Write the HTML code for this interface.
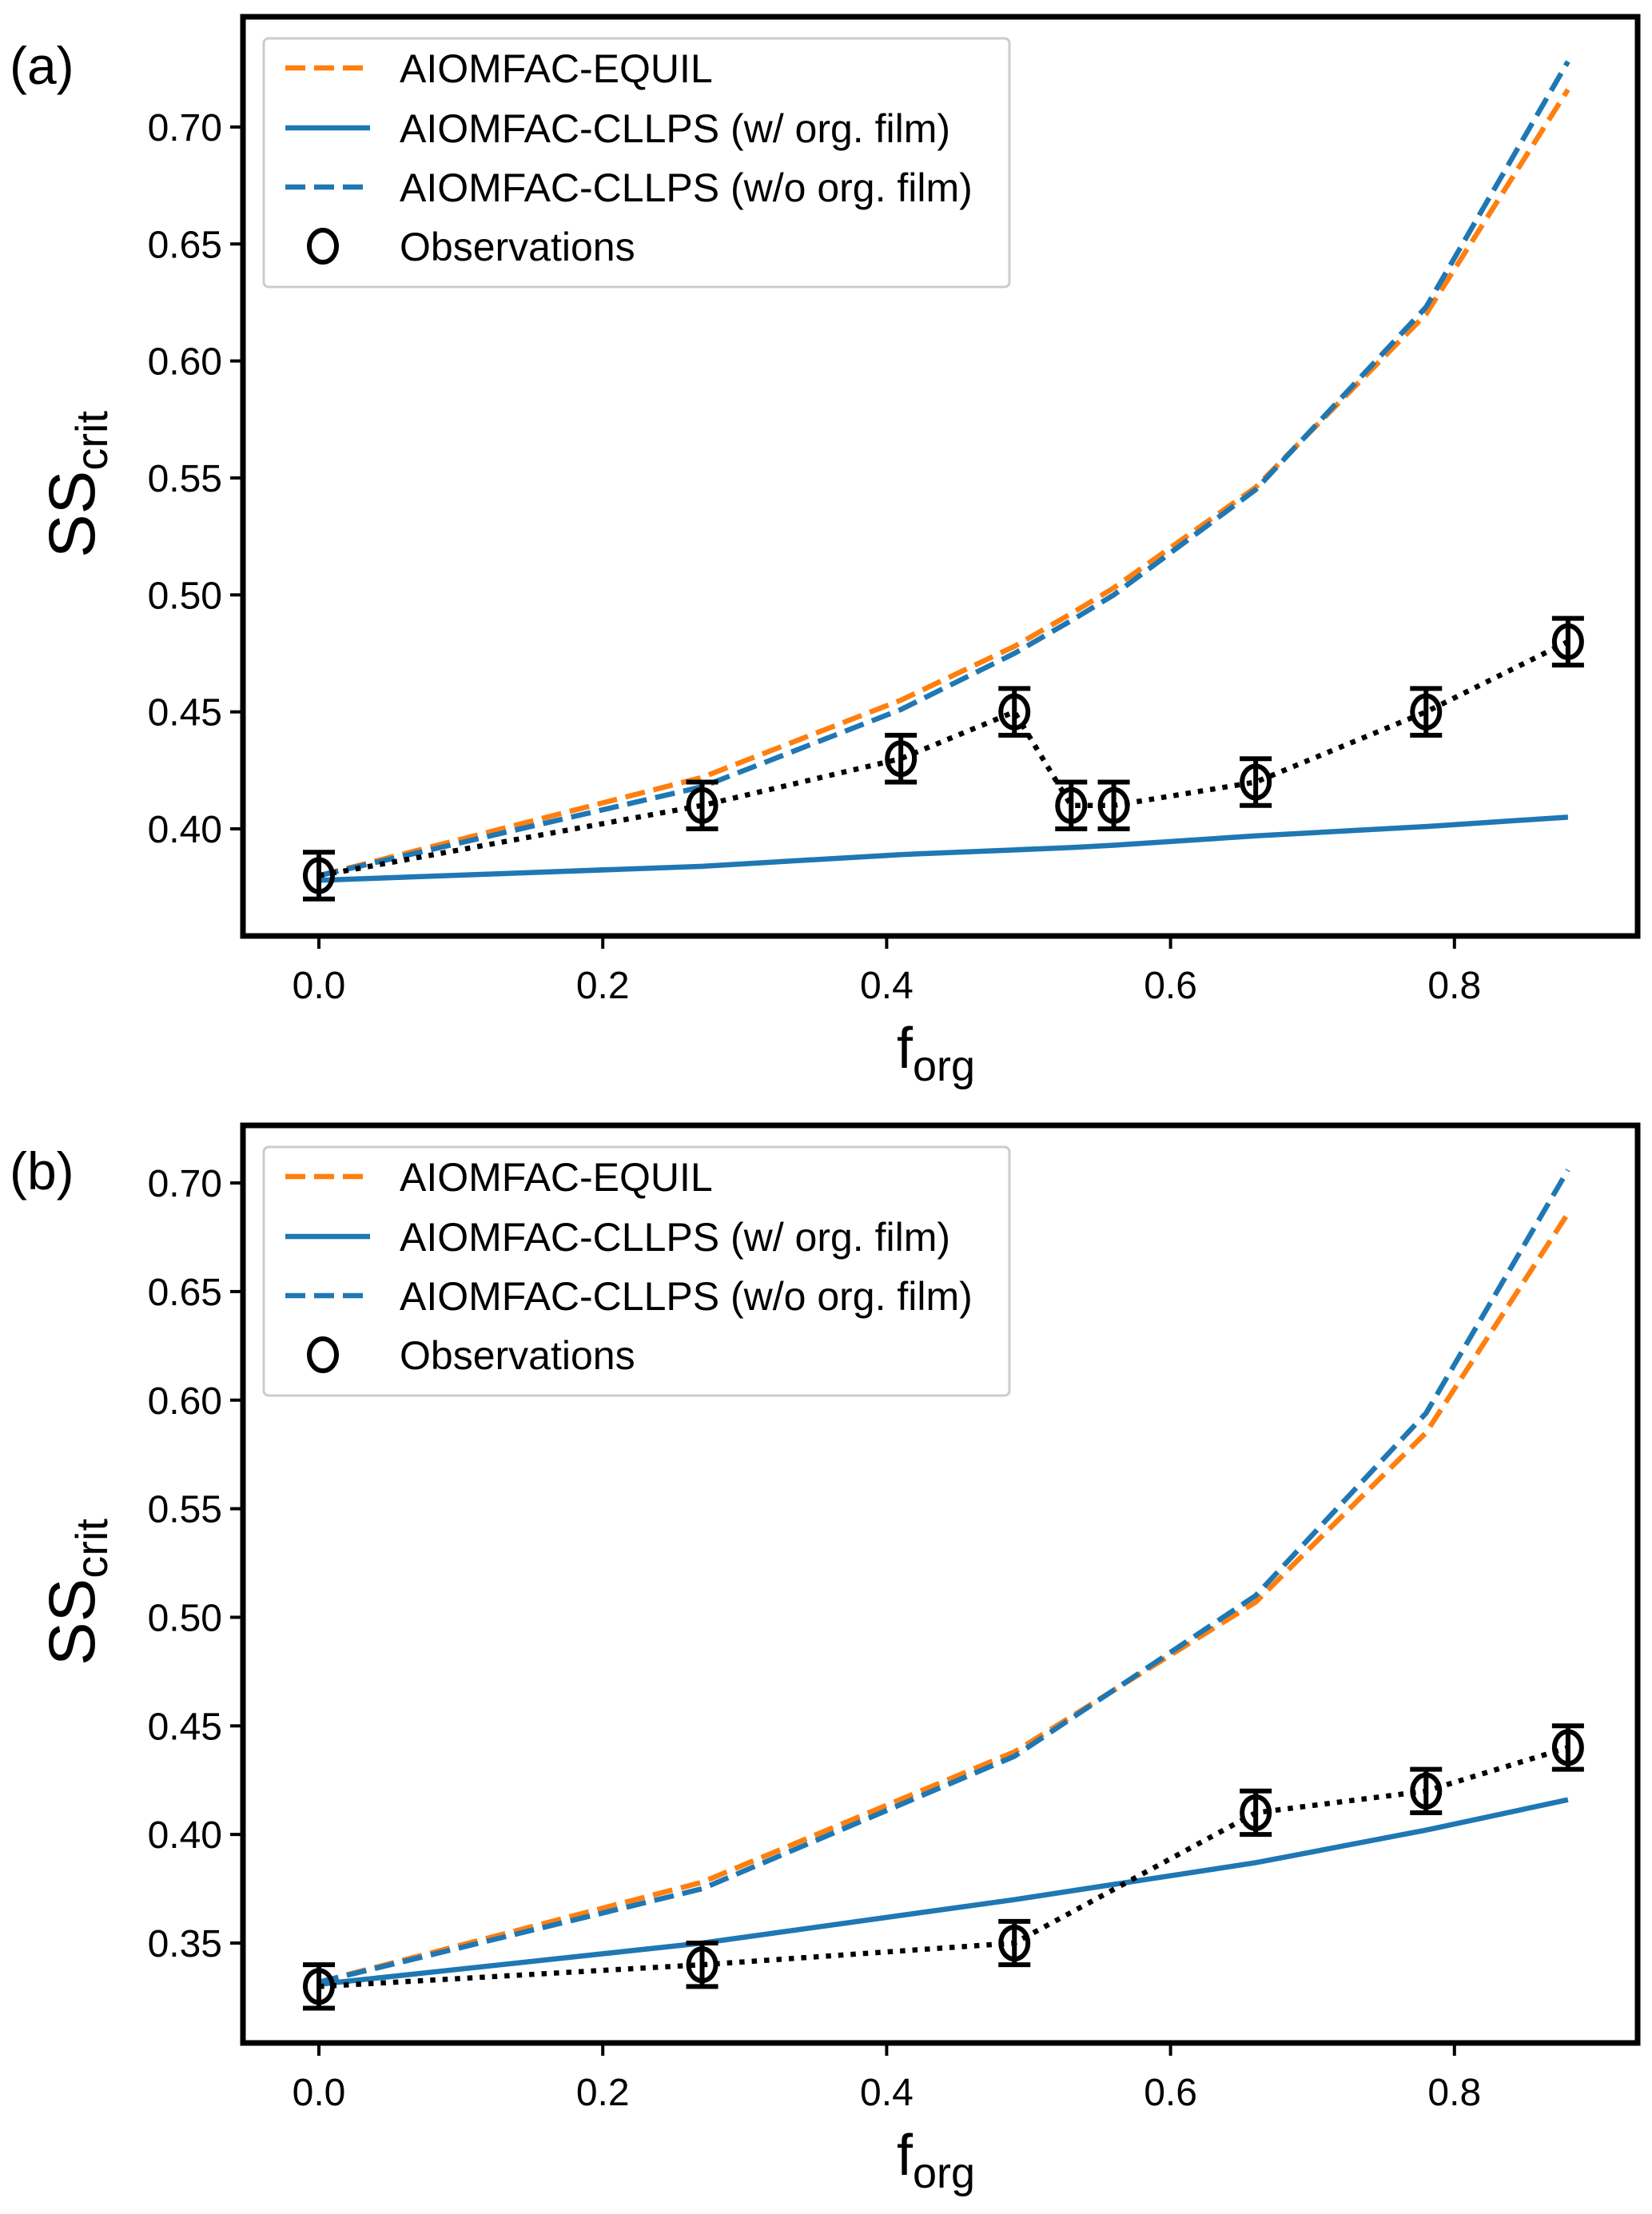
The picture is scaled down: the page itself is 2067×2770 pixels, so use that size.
<!DOCTYPE html>
<html><head><meta charset="utf-8"><style>
html,body{margin:0;padding:0;background:#fff;}
svg{display:block;font-family:"Liberation Sans",Arial,sans-serif;}
</style></head><body>
<svg id="fig" width="2067" height="2770" viewBox="0 0 2067 2770" xmlns="http://www.w3.org/2000/svg"></svg>
<script>
// Panel (a) data
const aX = [0, 0.27, 0.41, 0.49, 0.53, 0.56, 0.66, 0.78, 0.88];
const aObs = [0.38, 0.41, 0.43, 0.45, 0.41, 0.41, 0.42, 0.45, 0.48];
const aErr = [0.01, 0.01, 0.01, 0.01, 0.01, 0.01, 0.01, 0.01, 0.01];
const aEquil = [0.38, 0.422, 0.455, 0.478, 0.492, 0.503, 0.546, 0.62, 0.716];
const aWo = [0.38, 0.418, 0.451, 0.475, 0.489, 0.500, 0.545, 0.623, 0.728];
const aW = [0.378, 0.384, 0.389, 0.391, 0.392, 0.393, 0.397, 0.401, 0.405];
const aYTicks = [0.40, 0.45, 0.50, 0.55, 0.60, 0.65, 0.70];
// Panel (b) data
const bX = [0, 0.27, 0.49, 0.66, 0.78, 0.88];
const bObs = [0.33, 0.34, 0.35, 0.41, 0.42, 0.44];
const bErr = [0.01, 0.01, 0.01, 0.01, 0.01, 0.01];
const bEquil = [0.332, 0.378, 0.438, 0.507, 0.585, 0.686];
const bWo = [0.332, 0.375, 0.436, 0.510, 0.594, 0.706];
const bW = [0.331, 0.350, 0.370, 0.387, 0.402, 0.416];
const bYTicks = [0.35, 0.40, 0.45, 0.50, 0.55, 0.60, 0.65, 0.70];
const xTicks = [0.0, 0.2, 0.4, 0.6, 0.8];
const legendLabels = ["AIOMFAC-EQUIL", "AIOMFAC-CLLPS (w/ org. film)", "AIOMFAC-CLLPS (w/o org. film)", "Observations"];

const NS = "http://www.w3.org/2000/svg";
const svg = document.getElementById('fig');
function mk(tag, attrs, parent, text) {
  const e = document.createElementNS(NS, tag);
  for (const k in attrs) e.setAttribute(k, attrs[k]);
  if (text !== undefined) e.textContent = text;
  (parent || svg).appendChild(e);
  return e;
}

function panel(cfg) {
  const g = mk('g', {});
  
  
  const L = 304, R = 2049, T = cfg.top, B = cfg.bottom;
  const xs = v => 399 + v * 1776;
  const ys = v => cfg.y0px + (v - cfg.y0) * cfg.ypu;
  xTicks.forEach(t => {
    const tk = mk('line', {x1: xs(t), x2: xs(t), y1: B, y2: B + 16, stroke: '#000', 'stroke-width': 4}, g);
    
    
    const tl = mk('text', {x: xs(t), y: B + 78, 'font-size': 48, 'text-anchor': 'middle'}, g, t.toFixed(1));
    
    
  });
  cfg.yTicks.forEach(t => {
    const tk = mk('line', {x1: L - 16, x2: L, y1: ys(t), y2: ys(t), stroke: '#000', 'stroke-width': 4}, g);
    
    
    const tl = mk('text', {x: L - 26, y: ys(t) + 17, 'font-size': 48, 'text-anchor': 'end'}, g, t.toFixed(2));
    
    
  });
  const pts = arr => cfg.x.map((x, i) => xs(x) + ',' + ys(arr[i])).join(' ');
  const eq = mk('polyline', {points: pts(cfg.equil), fill: 'none', stroke: '#ff7f0e', 'stroke-width': 6.5, 'stroke-dasharray': '25 11'}, g);
  
  
  const w = mk('polyline', {points: pts(cfg.w), fill: 'none', stroke: '#1f77b4', 'stroke-width': 6.5}, g);
  
  
  const wo = mk('polyline', {points: pts(cfg.wo), fill: 'none', stroke: '#1f77b4', 'stroke-width': 6.5, 'stroke-dasharray': '25 11'}, g);
  
  
  const ob = mk('polyline', {points: pts(cfg.obs), fill: 'none', stroke: '#000', 'stroke-width': 6.5, 'stroke-dasharray': '6.5 9'}, g);
  
  
  cfg.x.forEach((x, i) => {
    const cx = xs(x), y1 = ys(cfg.obs[i] - cfg.err[i]), y2 = ys(cfg.obs[i] + cfg.err[i]);
    const eb = mk('path', {d: `M${cx},${y1}V${y2}M${cx-20},${y1}H${cx+20}M${cx-20},${y2}H${cx+20}`, stroke: '#000', 'stroke-width': 6, fill: 'none'}, g);
    
    
    const c = mk('ellipse', {cx: cx, cy: ys(cfg.obs[i]), rx: 17, ry: 20, fill: 'none', stroke: '#000', 'stroke-width': 6}, g);
    
    
  });
  const fr = mk('rect', {x: L, y: T, width: R - L, height: B - T, fill: 'none', stroke: '#000', 'stroke-width': 7}, g);
  
  
  const lg = mk('g', {}, g);
  
  
  const lt = cfg.legTop;
  mk('rect', {x: 330, y: lt, width: 933, height: 311, rx: 6, fill: '#fff', 'fill-opacity': 0.9, stroke: '#ccc', 'stroke-width': 3}, lg);
  const rows = [lt + 37, lt + 112, lt + 186, lt + 260];
  const styles = [['#ff7f0e', '25 11'], ['#1f77b4', 'none'], ['#1f77b4', '25 11']];
  styles.forEach((s, i) => {
    const h = mk('line', {x1: 357, x2: 463, y1: rows[i], y2: rows[i], stroke: s[0], 'stroke-width': 6.5, 'stroke-dasharray': s[1]}, lg);
    
    
  });
  mk('ellipse', {cx: 404, cy: rows[3], rx: 17, ry: 20, fill: 'none', stroke: '#000', 'stroke-width': 6}, lg);
  legendLabels.forEach((t, i) => {
    const e = mk('text', {x: 500, y: rows[i] + 18, 'font-size': 50}, lg, t);
    
    
  });
  const xl = mk('text', {x: 1122, y: B + 165, 'font-size': 72}, g);
  
  
  xl.innerHTML = 'f<tspan font-size="54" dy="16">org</tspan>';
  const yl = mk('text', {transform: `translate(118,${(T + B) / 2 + 10}) rotate(-90)`, 'font-size': 82, 'text-anchor': 'middle'}, g);
  
  
  yl.innerHTML = 'SS<tspan font-size="56" dy="16">crit</tspan>';
  const pl = mk('text', {x: 12, y: cfg.labelY, 'font-size': 66}, g, '(' + cfg.id + ')');
  
  
}

panel({id: 'a', top: 21, bottom: 1171, y0: 0.40, y0px: 1037, ypu: -2927, yTicks: aYTicks,
  x: aX, obs: aObs, err: aErr, equil: aEquil, wo: aWo, w: aW, legTop: 48, labelY: 105});
panel({id: 'b', top: 1408, bottom: 2556, y0: 0.35, y0px: 2431, ypu: -2717, yTicks: bYTicks,
  x: bX, obs: bObs, err: bErr, equil: bEquil, wo: bWo, w: bW, legTop: 1435, labelY: 1488});
</script>
</body></html>
